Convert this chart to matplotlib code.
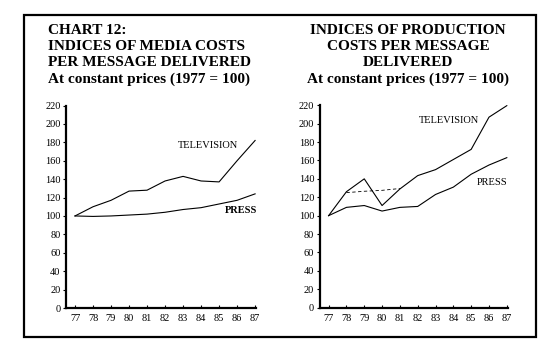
import matplotlib
matplotlib.use('Agg')
import matplotlib.pyplot as plt
from matplotlib.patches import Rectangle

plt.rcParams['font.family'] = ['Liberation Serif', 'DejaVu Serif']

years = [77, 78, 79, 80, 81, 82, 83, 84, 85, 86, 87]
year_labels = [str(y) for y in years]
y_ticks = [0, 20, 40, 60, 80, 100, 120, 140, 160, 180, 200, 220]

# media costs per message delivered
media_tv = [100, 110, 117, 127, 128, 138, 143, 138, 137, 160, 182]
media_press = [100, 99.5, 100, 101, 102, 104, 107, 109, 113, 117, 124]

# production costs per message delivered
prod_tv = [100, 126, 140, 111, 129, 143.5, 150, 161, 172, 207, 219.5]
prod_press = [100, 109, 111, 105, 109, 110, 123, 131, 145, 155, 163]
prod_dash_years = [78, 79, 80, 81]
prod_dash = [125, 126.5, 127.5, 129.5]

fig = plt.figure(figsize=(5.54, 3.6), dpi=100)

# outer frame
fig.patches.append(Rectangle((24 / 554, 1 - 337 / 360), 512 / 554, 322 / 360,
                             transform=fig.transFigure, fill=False,
                             edgecolor='black', linewidth=1.6))


def setup_axes(ax):
    ax.set_xlim(76.5, 87.05)
    ax.set_ylim(0, 220)
    ax.spines['top'].set_visible(False)
    ax.spines['right'].set_visible(False)
    ax.spines['left'].set_linewidth(1.6)
    ax.spines['bottom'].set_linewidth(1.6)
    ax.set_xticks(years)
    ax.set_xticklabels(year_labels)
    ax.set_yticks(y_ticks)
    ax.tick_params(axis='x', direction='in', length=2.5, width=0.8,
                   labelsize=7.5, pad=4.5)
    ax.tick_params(axis='y', direction='out', length=2.5, width=0.8,
                   labelsize=7.5, pad=1.5)


ax1 = fig.add_axes([66 / 554, 1 - 308 / 360, 190 / 554, 202.5 / 360])
setup_axes(ax1)
ax1.plot(years, media_tv, color='black', linewidth=0.8)
ax1.plot(years, media_press, color='black', linewidth=0.8)
ax1.text(84.4, 176, 'TELEVISION', ha='center', va='center', fontsize=7.5)
ax1.text(85.3, 106, 'PRESS', ha='left', va='center', fontsize=7.5,
         fontweight='bold')

ax2 = fig.add_axes([319.7 / 554, 1 - 307.7 / 360, 188 / 554, 202.5 / 360])
setup_axes(ax2)
ax2.plot(years, prod_tv, color='black', linewidth=0.8)
ax2.plot(years, prod_press, color='black', linewidth=0.8)
ax2.plot(prod_dash_years, prod_dash, color='black', linewidth=0.6,
         linestyle=(0, (4, 3)))
ax2.text(83.76, 203, 'TELEVISION', ha='center', va='center', fontsize=7.5)
ax2.text(86.2, 136, 'PRESS', ha='center', va='center', fontsize=7.5)

# titles
left_title = ['CHART 12:', 'INDICES OF MEDIA COSTS',
              'PER MESSAGE DELIVERED', 'At constant prices (1977 = 100)']
right_title = ['INDICES OF PRODUCTION', 'COSTS PER MESSAGE',
               'DELIVERED', 'At constant prices (1977 = 100)']
line_y = [30, 47, 62, 79]
for txt, y in zip(left_title, line_y):
    fig.text(48 / 554, 1 - y / 360, txt, ha='left', va='center',
             fontsize=11, fontweight='bold')
for txt, y in zip(right_title, line_y):
    fig.text(408 / 554, 1 - y / 360, txt, ha='center', va='center',
             fontsize=11, fontweight='bold')

fig.savefig('out.png', dpi=100)
